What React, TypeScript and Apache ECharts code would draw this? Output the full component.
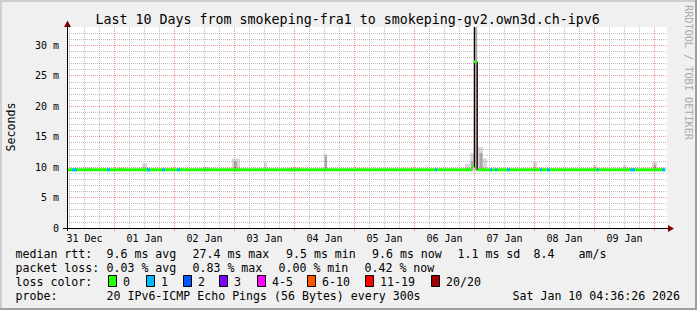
import React, { useEffect, useRef } from "react";
import * as echarts from "echarts";

// ---------- data (x = hours after 31 Dec 00:00, y = milliseconds) ----------
const xRange = [5, 245];
const yRange = [0, 33];

const title = "Last 10 Days from smokeping-fra1 to smokeping-gv2.own3d.ch-ipv6";
const dayLabels = ["31 Dec", "01 Jan", "02 Jan", "03 Jan", "04 Jan", "05 Jan", "06 Jan", "07 Jan", "08 Jan", "09 Jan"];
const dayLabelHours = [12, 36, 60, 84, 108, 132, 156, 180, 204, 228];
const midnightHours = [24, 48, 72, 96, 120, 144, 168, 192, 216, 240];
const sixHourHours = [6, 12, 18, 30, 36, 42, 54, 60, 66, 78, 84, 90, 102, 108, 114, 126, 132, 138, 150, 156, 162, 174, 180, 186, 198, 204, 210, 222, 228, 234];
const yLabelValues = [0, 5, 10, 15, 20, 25, 30];
const yMajor = [5, 10, 15, 20, 25, 30];
const yMinor = [1, 2, 3, 4, 6, 7, 8, 9, 11, 12, 13, 14, 16, 17, 18, 19, 21, 22, 23, 24, 26, 27, 28, 29, 31, 32];

const lossLabels = ["0", "1", "2", "3", "4-5", "6-10", "11-19", "20/20"];
const lossColors = ["#26ff00", "#00b8ff", "#0059ff", "#7e00ff", "#ff00ff", "#ff5500", "#ff0000", "#a10000"];

// median segments: [fromHour, toHour, medianMs, lossClass]
const medianSegments = [
  [5.0, 167.0, 9.55, 0],
  [167.0, 167.8, 10.1, 0],
  [167.8, 169.0, 27.3, 0],
  [169.2, 244.4, 9.55, 0],
  [7.0, 9.0, 9.55, 1],
  [21.0, 22.2, 9.55, 1],
  [37.0, 38.2, 9.55, 1],
  [43.0, 44.2, 9.55, 1],
  [49.0, 50.2, 9.55, 1],
  [152.2, 153.0, 9.55, 1],
  [174.2, 175.0, 9.55, 1],
  [176.2, 177.0, 9.55, 1],
  [181.0, 182.2, 9.55, 1],
  [194.2, 195.0, 9.55, 1],
  [197.0, 198.2, 9.55, 1],
  [217.0, 217.8, 9.55, 1],
  [230.2, 232.2, 9.55, 1],
  [243.0, 244.2, 9.55, 1],
];

// smoke (ping spread): [fromHour, toHour, lowMs, highMs]
const smokeOuter = [
  [12.2, 15.0, 9.3, 9.9],
  [25.4, 28.2, 9.3, 9.9],
  [35.0, 37.0, 9.3, 10.6],
  [59.4, 61.8, 9.3, 10.0],
  [71.0, 74.2, 9.3, 11.4],
  [83.8, 85.0, 9.3, 10.8],
  [93.0, 98.2, 9.3, 9.9],
  [107.8, 109.0, 9.3, 12.1],
  [164.2, 166.2, 9.3, 10.5],
  [166.2, 167.8, 9.3, 12.3],
  [167.8, 169.2, 9.3, 33],
  [169.4, 171.4, 9.3, 13.3],
  [171.4, 173.0, 9.3, 11.4],
  [191.4, 193.0, 9.3, 10.8],
  [215.4, 217.0, 9.3, 10.3],
  [227.4, 229.0, 9.3, 10.3],
  [239.0, 241.0, 9.3, 10.8],
];
const smokeInner = [
  [71.8, 73.0, 9.4, 10.9],
  [108.2, 109.0, 9.4, 11.8],
  [166.6, 167.4, 9.4, 11.0],
  [168.0, 169.0, 9.6, 33],
  [170.0, 171.2, 9.4, 12.3],
  [239.8, 240.6, 9.4, 10.4],
];
// steep median transitions: [hour, lowMs, highMs]
const spikeEdges = [
  [167.95, 10.0, 33],
  [169.1, 9.5, 27.3],
];

const medianStats = ["9.6 ms avg", "27.4 ms max", "9.5 ms min", "9.6 ms now", "1.1 ms sd", "8.4", "am/s"];
const lossStats = ["0.03 % avg", "0.83 % max", "0.00 % min", "0.42 % now"];
const probeText = "20 IPv6-ICMP Echo Pings (56 Bytes) every 300s";
const stampText = "Sat Jan 10 04:36:26 2026";

// ---------- layout / style ----------
const FONT = '"DejaVu Sans Mono", monospace';
const LEG_FONT = `11.6px ${FONT}`;
const medianX = [106.5, 192.5, 286, 372, 457.5, 533.5, 578.5];
const lossX = [106.5, 192.5, 278.5, 364.5];
const boxX = [108.5, 146.5, 183.5, 219.5, 257.5, 307.5, 365.5, 431.5];

function clipRect(r: any, cs: any) {
  return echarts.graphic.clipRectByRect(r, { x: cs.x, y: cs.y, width: cs.width, height: cs.height });
}

function smokeRender(color: string) {
  return (params: any, api: any) => {
    const p1 = api.coord([api.value(0), api.value(3)]);
    const p2 = api.coord([api.value(1), api.value(2)]);
    const shape = clipRect({ x: p1[0], y: p1[1], width: p2[0] - p1[0], height: p2[1] - p1[1] }, params.coordSys);
    if (!shape) return null;
    return { type: "rect", shape, style: { fill: color } };
  };
}

function gridLines(name: string, axis: "xAxis" | "yAxis", values: number[], color: string) {
  return {
    name,
    type: "line",
    data: [],
    silent: true,
    z: 1,
    markLine: {
      silent: true,
      symbol: ["none", "none"],
      label: { show: false },
      lineStyle: { color, width: 1, type: [1, 1] },
      emphasis: { disabled: true },
      data: values.map((v) => ({ [axis]: v })),
    },
  };
}

function txt(text: string, x: number, y: number, font: string, extra: any = {}, rotation = 0) {
  return {
    type: "text",
    x,
    y,
    rotation,
    silent: true,
    style: { text, font, fill: "#000", align: "left", verticalAlign: "middle", ...extra },
  };
}

export default function App() {
  const ref = useRef<HTMLDivElement>(null);
  useEffect(() => {
    if (!ref.current) return;
    const chart = echarts.init(ref.current, undefined, { renderer: "svg" });

    const graphic: any[] = [
      // frame shading
      { type: "rect", shape: { x: 0, y: 0, width: 697, height: 2 }, style: { fill: "#cfcfcf" }, silent: true },
      { type: "rect", shape: { x: 0, y: 0, width: 2, height: 310 }, style: { fill: "#cfcfcf" }, silent: true },
      { type: "rect", shape: { x: 0, y: 308, width: 697, height: 2 }, style: { fill: "#9e9e9e" }, silent: true },
      { type: "rect", shape: { x: 695, y: 0, width: 2, height: 310 }, style: { fill: "#9e9e9e" }, silent: true },
      // axes
      { type: "line", shape: { x1: 63, y1: 228.5, x2: 669, y2: 228.5 }, style: { stroke: "#000", lineWidth: 1 }, silent: true, z: 10 },
      { type: "line", shape: { x1: 67.5, y1: 231, x2: 67.5, y2: 25 }, style: { stroke: "#000", lineWidth: 1 }, silent: true, z: 10 },
      { type: "polygon", shape: { points: [[668, 225], [674, 228.5], [668, 232]] }, style: { fill: "#7f0000" }, silent: true, z: 10 },
      { type: "polygon", shape: { points: [[64, 27], [67.5, 20.5], [71, 27]] }, style: { fill: "#7f0000" }, silent: true, z: 10 },
      // title
      txt(title, 95.5, 19, `13.3px ${FONT}`),
      // y axis title
      txt("Seconds", 11, 127, `11.6px ${FONT}`, { align: "center" }, Math.PI / 2),
      // watermark
      txt("RRDTOOL / TOBI OETIKER", 688, 5, `10.2px ${FONT}`, { fill: "#aaaaaa" }, -Math.PI / 2),
      // legend rows
      txt("median rtt:", 15.5, 254, LEG_FONT),
      ...medianStats.map((s, i) => txt(s, medianX[i], 254, LEG_FONT)),
      txt("packet loss:", 15.5, 268, LEG_FONT),
      ...lossStats.map((s, i) => txt(s, lossX[i], 268, LEG_FONT)),
      txt("loss color:", 15.5, 282, LEG_FONT),
      ...lossLabels.map((s, i) => ({
        type: "rect",
        silent: true,
        shape: { x: boxX[i], y: 275.5, width: 8, height: 11 },
        style: { fill: lossColors[i], stroke: "#000", lineWidth: 1 },
      })),
      ...lossLabels.map((s, i) => txt(s, boxX[i] + 14.5, 282, LEG_FONT)),
      txt("probe:", 15.5, 295.5, LEG_FONT),
      txt(probeText, 106.5, 295.5, LEG_FONT),
      txt(stampText, 512.5, 295.5, LEG_FONT),
    ];

    const option: any = {
      animation: false,
      backgroundColor: "#f0f0f0",
      grid: { left: 67, top: 27, width: 600, height: 201, show: true, backgroundColor: "#ffffff", borderWidth: 0 },
      xAxis: {
        type: "value",
        min: xRange[0],
        max: xRange[1],
        axisLine: { show: false },
        axisTick: { show: true, customValues: midnightHours, length: 3, lineStyle: { color: "#e89a9a", width: 1 } },
        axisLabel: {
          customValues: dayLabelHours,
          formatter: (v: number) => dayLabels[dayLabelHours.indexOf(v)] ?? "",
          fontFamily: FONT,
          fontSize: 10,
          color: "#000",
          margin: 5,
        },
        splitLine: { show: false },
      },
      yAxis: {
        type: "value",
        min: yRange[0],
        max: yRange[1],
        axisLine: { show: false },
        axisTick: { show: false },
        axisLabel: {
          customValues: yLabelValues,
          formatter: (v: number) => (v === 0 ? "0" : `${v} m`),
          fontFamily: FONT,
          fontSize: 10,
          color: "#000",
          margin: 8,
        },
        splitLine: { show: false },
      },
      series: [
        gridLines("xMinor", "xAxis", sixHourHours, "rgba(140,140,140,0.55)"),
        gridLines("yMinor", "yAxis", yMinor, "rgba(140,140,140,0.55)"),
        gridLines("xMajor", "xAxis", midnightHours, "rgba(222,80,80,0.6)"),
        gridLines("yMajor", "yAxis", yMajor, "rgba(222,80,80,0.6)"),
        {
          name: "smokeOuter",
          type: "custom",
          z: 3,
          silent: true,
          data: smokeOuter,
          encode: { x: [0, 1], y: [2, 3] },
          renderItem: smokeRender("#d8d8d8"),
        },
        {
          name: "smokeInner",
          type: "custom",
          z: 4,
          silent: true,
          data: smokeInner,
          encode: { x: [0, 1], y: [2, 3] },
          renderItem: smokeRender("#a8a8a8"),
        },
        {
          name: "spikeEdges",
          type: "custom",
          z: 5,
          silent: true,
          data: spikeEdges,
          encode: { x: 0, y: [1, 2] },
          renderItem: (params: any, api: any) => {
            const cs = params.coordSys;
            const p1 = api.coord([api.value(0), api.value(2)]);
            const p2 = api.coord([api.value(0), api.value(1)]);
            return {
              type: "line",
              shape: { x1: p1[0], y1: Math.max(p1[1], cs.y), x2: p2[0], y2: p2[1] },
              style: { stroke: "#1a0505", lineWidth: 1.3 },
            };
          },
        },
        {
          name: "median",
          type: "custom",
          z: 6,
          silent: true,
          data: medianSegments,
          encode: { x: [0, 1], y: 2 },
          renderItem: (params: any, api: any) => {
            const p1 = api.coord([api.value(0), api.value(2)]);
            const p2 = api.coord([api.value(1), api.value(2)]);
            return {
              type: "rect",
              shape: { x: p1[0], y: p1[1] - 1.5, width: p2[0] - p1[0], height: 3 },
              style: { fill: lossColors[api.value(3)] },
            };
          },
        },
      ],
      graphic,
    };
    chart.setOption(option);
    return () => chart.dispose();
  }, []);

  return (
    <div
      ref={ref}
      style={{ position: "fixed", left: 0, top: 0, width: 697, height: 310, background: "#f0f0f0" }}
    />
  );
}
